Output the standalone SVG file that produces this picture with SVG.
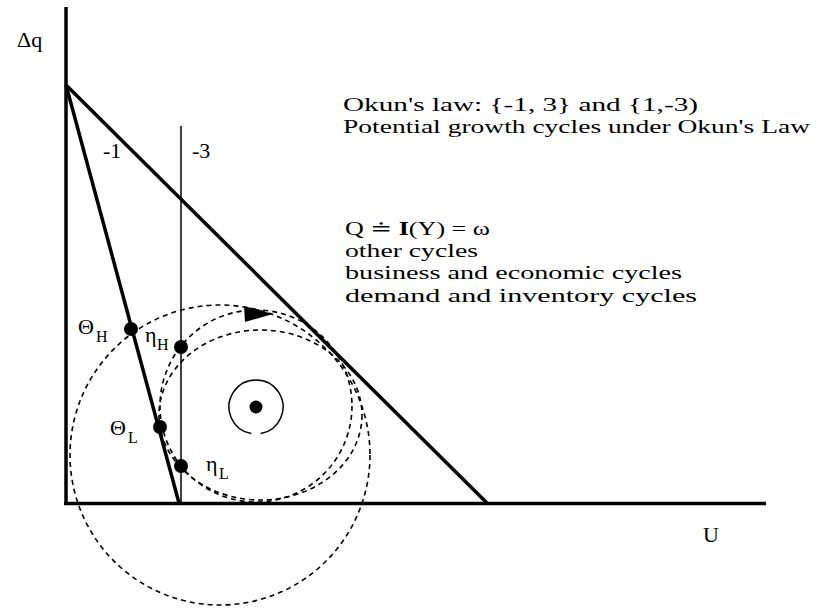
<svg xmlns="http://www.w3.org/2000/svg" width="832" height="611" viewBox="0 0 832 611">
<style>
.t{font-family:"Liberation Serif","DejaVu Serif",serif;font-size:22px;fill:#000}
.lg{font-family:"Liberation Serif","DejaVu Serif",serif;font-size:19.5px;fill:#000}
.s{font-family:"Liberation Serif","DejaVu Serif",serif;font-size:16px;fill:#000}
.thick{stroke:#000;stroke-width:3.5;fill:none;stroke-linecap:butt}
.thin{stroke:#000;stroke-width:1.5;fill:none}
.dash{stroke:#000;stroke-width:1.6;fill:none;stroke-dasharray:5 4}
.dot{fill:#000}
</style>
<rect width="832" height="611" fill="#fff"/>
<g id="axes">
<line class="thick" x1="66" y1="7" x2="66" y2="505"/>
<line class="thick" x1="64" y1="503.5" x2="766" y2="503.5"/>
<text class="t" x="17" y="47">Δq</text>
<text class="t" x="703" y="542">U</text>
</g>
<g id="connectors">
<line class="thick" x1="66" y1="85" x2="487" y2="503"/>
<line class="thick" x1="66" y1="85" x2="179" y2="503"/>
<line class="thin" x1="181" y1="126" x2="181" y2="503"/>
<circle class="dash" cx="220" cy="455" r="150"/>
<circle class="dash" cx="256" cy="406" r="96"/>
<ellipse class="dash" cx="260.5" cy="415" rx="101.5" ry="85"/>
<path class="thin" d="M260.7 433.6 A27 27 0 1 0 251.3 433.6"/>
<polygon class="dot" points="244,306 245,322 273,314"/>
</g>
<g id="slope-labels">
<text class="t" x="103" y="158">-1</text>
<text class="t" x="192" y="158">-3</text>
</g>
<g id="theta-H"><circle class="dot" cx="131" cy="329" r="7"/><text class="t" x="78" y="334">Θ</text><text class="s" x="96" y="342">H</text></g>
<g id="eta-H"><circle class="dot" cx="181" cy="347" r="7"/><text class="t" x="145" y="342">η</text><text class="s" x="157" y="350">H</text></g>
<g id="theta-L"><circle class="dot" cx="160" cy="427" r="7"/><text class="t" x="110" y="435">Θ</text><text class="s" x="128" y="443">L</text></g>
<g id="eta-L"><circle class="dot" cx="181" cy="466" r="7"/><text class="t" x="206" y="471">η</text><text class="s" x="219" y="479">L</text></g>
<g id="center"><circle class="dot" cx="256" cy="407" r="6.5"/></g>
<g id="legend">
<text class="lg" x="343" y="111" textLength="355" lengthAdjust="spacingAndGlyphs">Okun's law:  {-1, 3} and {1,-3)</text>
<text class="lg" x="343" y="133" textLength="467" lengthAdjust="spacingAndGlyphs">Potential growth cycles under Okun's Law</text>
<text class="lg" x="345" y="235" textLength="145" lengthAdjust="spacingAndGlyphs">Q ≐ <tspan font-weight="bold">I</tspan>(Y) = ω</text>
<text class="lg" x="345" y="257" textLength="133" lengthAdjust="spacingAndGlyphs">other cycles</text>
<text class="lg" x="345" y="279" textLength="337" lengthAdjust="spacingAndGlyphs">business and economic cycles</text>
<text class="lg" x="345" y="302" textLength="352" lengthAdjust="spacingAndGlyphs">demand and inventory cycles</text>
</g>
</svg>
